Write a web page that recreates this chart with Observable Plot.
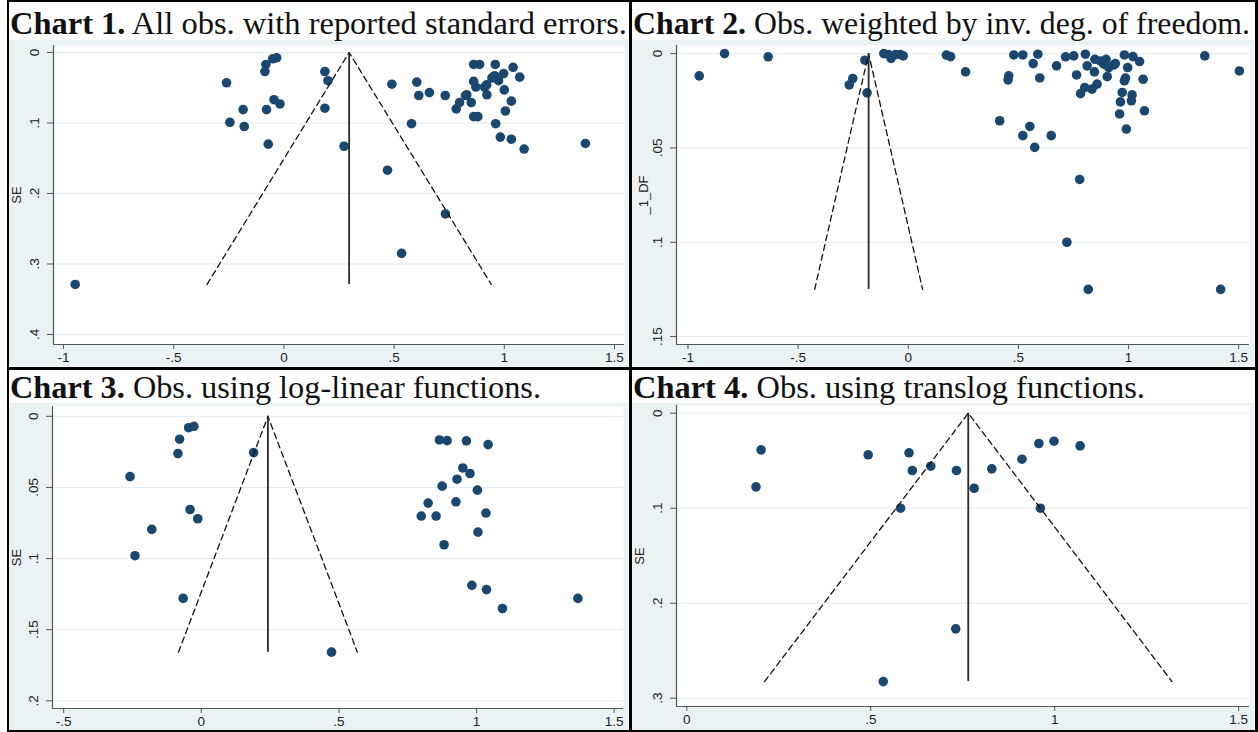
<!DOCTYPE html>
<html><head><meta charset="utf-8">
<script src="https://cdn.jsdelivr.net/npm/d3@7"></script>
<script src="https://cdn.jsdelivr.net/npm/@observablehq/plot@0.6"></script>
<style>
html,body{margin:0;padding:0;background:#fff}
body{width:1258px;height:732px;position:relative;overflow:hidden;font-family:"Liberation Sans",Arial,sans-serif}
.title{position:absolute;font-family:"Liberation Serif","Times New Roman",serif;font-size:32.5px;line-height:32.5px;white-space:nowrap;color:#111;transform-origin:0 0}
.title b{font-weight:bold}
.chart{position:absolute}
.chart svg{display:block;max-width:none}
.bl{position:absolute;background:#000}
</style></head><body>
<div id="root"></div>
<script>
// ---------- data ----------
const titlesBold = ["Chart 1.", "Chart 2.", "Chart 3.", "Chart 4."];
const titlesRest = [" All obs. with reported standard errors.", " Obs. weighted by inv. deg. of freedom.", " Obs. using log-linear functions.", " Obs. using translog functions."];
const yLabels = ["SE", "_1_DF", "SE", "SE"];

const chart1X  = [-0.26,-0.185,-0.245,-0.18,-0.086,-0.082,-0.051,-0.033,-0.045,-0.018,-0.079,-0.071,0.186,0.2,0.186,0.273,0.47,0.49,0.603,0.612,0.66,0.579,0.732,0.782,0.797,0.824,0.83,0.85,0.861,0.888,0.861,0.871,0.861,0.88,0.91,0.92,0.921,0.944,0.956,0.974,0.959,0.997,1.0,1.04,1.07,1.032,1.005,0.961,0.982,1.032,1.09,1.368,-0.947,0.733,0.534];
const chart1SE = [0.043,0.081,0.099,0.105,0.027,0.017,0.009,0.0075,0.067,0.073,0.081,0.13,0.027,0.04,0.079,0.133,0.167,0.045,0.042,0.061,0.057,0.101,0.061,0.080,0.071,0.061,0.06,0.071,0.017,0.017,0.041,0.049,0.091,0.091,0.049,0.046,0.06,0.036,0.033,0.04,0.017,0.030,0.053,0.021,0.035,0.069,0.083,0.101,0.12,0.123,0.137,0.129,0.329,0.229,0.285];

const chart2X  = [-0.949,-0.834,-0.636,-0.197,-0.252,-0.268,-0.187,-0.111,-0.089,-0.078,-0.058,-0.036,-0.023,0.173,0.192,0.26,0.479,0.52,0.588,0.567,0.456,0.453,0.597,0.673,0.714,0.751,0.804,0.812,0.764,0.845,0.847,0.872,0.898,0.888,0.91,0.933,0.94,0.903,0.981,1.02,1.05,0.996,0.986,0.981,1.066,0.782,0.801,0.834,0.857,0.971,1.016,0.963,1.013,0.959,1.072,0.99,0.415,0.552,0.52,0.649,0.574,1.346,1.503,0.778,0.72,0.817,1.418];
const chart2DF = [0.0118,0,0.0017,0.0035,0.0132,0.0166,0.0208,0,0.0005,0.0025,0.0005,0.0005,0.0012,0.0008,0.0016,0.0097,0.0007,0.0007,0.0003,0.0053,0.0118,0.0139,0.0129,0.0065,0.0017,0.0012,0.0003,0.0065,0.0113,0.0097,0.003,0.0039,0.003,0.0056,0.0074,0.006,0.0053,0.0122,0.0007,0.0016,0.0042,0.0074,0.013,0.0144,0.0136,0.0212,0.018,0.0188,0.0162,0.0206,0.0219,0.0256,0.025,0.032,0.0303,0.04,0.0356,0.0386,0.0435,0.0435,0.0497,0.0012,0.0092,0.0667,0.1,0.125,0.125];

const chart3X  = [-0.259,-0.046,-0.027,-0.079,-0.085,0.19,-0.041,-0.013,-0.18,-0.241,-0.066,0.865,0.893,0.963,1.042,0.95,0.976,0.929,0.875,1.003,0.824,0.925,0.799,0.853,1.034,1.005,0.882,0.983,1.036,1.094,1.368,0.473];
const chart3SE = [0.0424,0.008,0.007,0.0161,0.0262,0.0255,0.0655,0.072,0.0795,0.098,0.128,0.0166,0.0171,0.0173,0.0199,0.0363,0.0402,0.0442,0.0491,0.0519,0.061,0.0601,0.0701,0.0701,0.068,0.0814,0.0903,0.1188,0.1218,0.1351,0.128,0.1658];

const chart4X  = [0.202,0.188,0.493,0.604,0.613,0.663,0.733,0.581,0.781,0.829,0.911,0.957,0.998,1.069,0.961,0.731,0.534];
const chart4SE = [0.0386,0.0775,0.0438,0.0417,0.0603,0.0558,0.0603,0.1,0.079,0.0586,0.0484,0.0319,0.0295,0.0344,0.1,0.227,0.2825];

// funnel: centre (pooled effect) and largest SE
const funnelCenter = [0.296, -0.18, 0.242, 0.765];
const funnelMaxSE  = [0.329, 0.125, 0.1658, 0.2825];

const xTicks = [[-1,-0.5,0,0.5,1,1.5],[-1,-0.5,0,0.5,1,1.5],[-0.5,0,0.5,1,1.5],[0,0.5,1,1.5]];
const yTicks = [[0,0.1,0.2,0.3,0.4],[0,0.05,0.1,0.15],[0,0.05,0.1,0.15,0.2],[0,0.1,0.2,0.3]];

const seriesX = [chart1X, chart2X, chart3X, chart4X];
const seriesY = [chart1SE, chart2DF, chart3SE, chart4SE];

// ---------- layout ----------
const geo = [
  {left:9,   top:40,  w:619, h:326, ml:44, mr:4, mt:5, mb:22, xd:[-1.0454,1.5454], yd:[-0.0099,0.4142], ldx:-37, tl:10,  tt:7,   tw:617},
  {left:632, top:40,  w:622, h:326, ml:44, mr:5, mt:5, mb:22, xd:[-1.0522,1.549],  yd:[-0.0043,0.1542], ldx:-33, tl:633, tt:7,   tw:617},
  {left:9,   top:403, w:619, h:327, ml:43, mr:5, mt:3, mb:22, xd:[-0.5407,1.5338], yd:[-0.0069,0.2054], ldx:-36, tl:10,  tt:371, tw:531},
  {left:632, top:403, w:622, h:327, ml:44, mr:5, mt:2, mb:24, xd:[-0.028,1.5294],  yd:[-0.0081,0.3087], ldx:-37, tl:633, tt:371, tw:512}
];

const fmt = d => d === 0 ? "0" : String(d).replace(/^(-?)0\./, "$1.");
const FONT = "'Liberation Sans', Arial, sans-serif";
const root = document.getElementById("root");
const titleEls = [];

geo.forEach((g, i) => {
  const data = seriesX[i].map((x, j) => ({x, y: seriesY[i][j]}));
  const c = funnelCenter[i], m = funnelMaxSE[i];
  const funnel = [{x: c - 1.96 * m, y: m}, {x: c, y: 0}, {x: c + 1.96 * m, y: m}];
  const svg = Plot.plot({
    width: g.w, height: g.h,
    marginLeft: g.ml, marginRight: g.mr, marginTop: g.mt, marginBottom: g.mb,
    style: {background: "#eaf2f3", fontFamily: FONT, color: "#222", overflow: "visible"},
    x: {domain: g.xd},
    y: {domain: g.yd, reverse: true},
    marks: [
      Plot.frame({fill: "white", stroke: null}),
      Plot.gridY(yTicks[i], {stroke: "#e3ebee", strokeOpacity: 1}),
      Plot.ruleX([g.xd[0]], {stroke: "#555", strokeWidth: 1.2}),
      Plot.ruleY([g.yd[1]], {stroke: "#555", strokeWidth: 1.2}),
      Plot.axisX(xTicks[i], {tickSize: 5, tickPadding: 3, tickFormat: fmt, stroke: "#555", fill: "#222", fontSize: 13.5, label: null}),
      Plot.axisY(yTicks[i], {tickSize: 6, tickPadding: 9, tickRotate: -90, tickFormat: fmt, stroke: "#555", fill: "#222", fontSize: 13.5, label: null}),
      Plot.text([yLabels[i]], {frameAnchor: "left", rotate: -90, dx: g.ldx, textAnchor: "middle", fontSize: 13, fill: "#222"}),
      Plot.dot(data, {x: "x", y: "y", r: 4.8, fill: "#1a476f", stroke: null}),
      Plot.line(funnel, {x: "x", y: "y", stroke: "#111", strokeWidth: 1.3, strokeDasharray: "6,4"}),
      Plot.ruleX([c], {y1: 0, y2: m, stroke: "#2a2a2a", strokeWidth: 1.8})
    ]
  });
  const box = document.createElement("div");
  box.className = "chart";
  box.style.left = g.left + "px"; box.style.top = g.top + "px";
  box.appendChild(svg);
  root.appendChild(box);

  const t = document.createElement("div");
  t.className = "title";
  t.style.left = g.tl + "px"; t.style.top = g.tt + "px";
  const b = document.createElement("b"); b.textContent = titlesBold[i];
  t.appendChild(b);
  t.appendChild(document.createTextNode(titlesRest[i]));
  root.appendChild(t);
  titleEls.push([t, g.tw]);
});

// fit each title to the width it occupies in the reference
titleEls.forEach(([t, tw]) => {
  const w = t.getBoundingClientRect().width;
  if (w > 0) t.style.transform = `scaleX(${tw / w})`;
});

// table borders
[
  {l:7, t:0, w:1251, h:2}, {l:7, t:730, w:1251, h:2},
  {l:7, t:0, w:2, h:732}, {l:1255, t:0, w:3, h:732},
  {l:629, t:0, w:3, h:732}, {l:7, t:367, w:1251, h:3}
].forEach(r => {
  const d = document.createElement("div"); d.className = "bl";
  d.style.left = r.l + "px"; d.style.top = r.t + "px"; d.style.width = r.w + "px"; d.style.height = r.h + "px";
  root.appendChild(d);
});
</script>
</body></html>
